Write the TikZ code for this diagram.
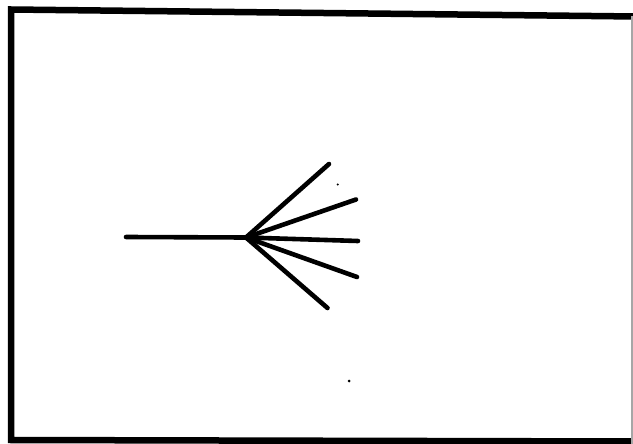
\documentclass[tikz,border=0pt]{standalone}
\begin{document}
\begin{tikzpicture}[x=1pt,y=-1pt,
  stroke/.style={line width=4.6pt,line cap=round,black},
  frame/.style={line width=6.5pt,black,line join=miter},
  speck/.style={fill=black}]
\useasboundingbox (0,0) rectangle (633,444);
\fill[white] (0,0) rectangle (633,444);
% frame
\coordinate (tr) at (636,16.5);
\coordinate (tl) at (11,9.5);
\coordinate (bl) at (11,440);
\coordinate (br) at (636,441.5);
\draw[frame] (tr) -- (tl) -- (bl) -- (br);
\draw[line width=1.2pt,black!35] (632,16) -- (632,444);
% fan
\coordinate (L) at (126,237);
\coordinate (C) at (246,237.5);
\coordinate (e1) at (329,164);
\coordinate (e2) at (356,199.5);
\coordinate (e3) at (358,241);
\coordinate (e4) at (357,277);
\coordinate (e5) at (327.5,308);
\draw[stroke] (L) -- (C);
\foreach \e in {e1,e2,e3,e4,e5} \draw[stroke] (C) -- (\e);
% specks
\fill[speck] (337.7,184.5) circle (1.1pt);
\fill[speck] (349,381) circle (1.5pt);
\end{tikzpicture}
\end{document}
